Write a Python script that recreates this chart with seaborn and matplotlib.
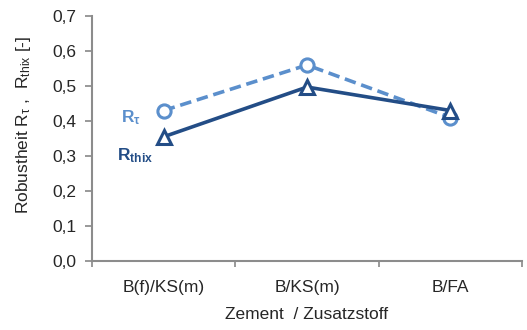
import numpy as np
import pandas as pd
import seaborn as sns
import matplotlib.pyplot as plt

# Daten
kategorien = ["B(f)/KS(m)", "B/KS(m)", "B/FA"]
r_tau = [0.43, 0.56, 0.41]
r_thix = [0.355, 0.497, 0.43]

farbe_tau = "#5b8fcc"
farbe_thix = "#234d86"

sns.set_theme(style="white")
plt.rcParams["font.family"] = ["Liberation Sans", "DejaVu Sans"]
plt.rcParams["mathtext.fontset"] = "custom"
plt.rcParams["mathtext.rm"] = "Liberation Sans"
plt.rcParams["mathtext.it"] = "Liberation Sans"
plt.rcParams["mathtext.bf"] = "Liberation Sans:bold"

df = pd.DataFrame({
    "pos": list(range(len(kategorien))) * 2,
    "wert": r_tau + r_thix,
    "reihe": ["tau"] * len(r_tau) + ["thix"] * len(r_thix),
})

fig = plt.figure(figsize=(5.27, 3.30), dpi=100)
ax = fig.add_axes([0.1746, 0.209, 0.816, 0.7425])

sns.lineplot(data=df[df.reihe == "tau"], x="pos", y="wert", ax=ax,
             color=farbe_tau, linewidth=2.6, linestyle=(0, (3.2, 1.6)),
             marker="o", markersize=9.5, markerfacecolor="white",
             markeredgecolor=farbe_tau, markeredgewidth=2.2)
sns.lineplot(data=df[df.reihe == "thix"], x="pos", y="wert", ax=ax,
             color=farbe_thix, linewidth=2.6,
             marker="^", markersize=10, markerfacecolor="white",
             markeredgecolor=farbe_thix, markeredgewidth=2.2)

fs = 12.5
ax.set_xlim(-0.5, len(kategorien) - 0.5)
ax.set_ylim(0, 0.7)
ax.set_yticks(np.arange(0, 0.71, 0.1))
ax.set_yticklabels([f"{v:.1f}".replace(".", ",") for v in np.arange(0, 0.71, 0.1)])

ax.set_xticks(np.arange(-0.5, len(kategorien)), minor=False)
ax.set_xticklabels([])
ax.set_xticks(range(len(kategorien)), minor=True)
ax.set_xticklabels(kategorien, minor=True)
ax.tick_params(axis="x", which="minor", length=0, pad=14, labelsize=fs)
ax.tick_params(axis="x", which="major", length=4, color="#8c8c8c", direction="out", bottom=True)
ax.tick_params(axis="y", length=5, color="#8c8c8c", direction="out", left=True, labelsize=fs, pad=6)

for s in ["top", "right"]:
    ax.spines[s].set_visible(False)
for s in ["left", "bottom"]:
    ax.spines[s].set_color("#8c8c8c")
    ax.spines[s].set_linewidth(1.5)

ax.set_xlabel("Zement  / Zusatzstoff", fontsize=fs, labelpad=8)
ax.set_ylabel(r"Robustheit R$_{\mathrm{τ}}$ ,  R$_{\mathrm{thix}}$ [-]", fontsize=fs)
ax.yaxis.set_label_coords(-0.137, 0.555)

ax.text(-0.228, 0.411, r"$\mathbf{R_{τ}}$", color=farbe_tau, fontsize=fs, ha="center", va="center")
ax.text(-0.2, 0.30, r"$\mathbf{R_{thix}}$", color=farbe_thix, fontsize=fs, ha="center", va="center")

fig.savefig("out.png", dpi=100)
